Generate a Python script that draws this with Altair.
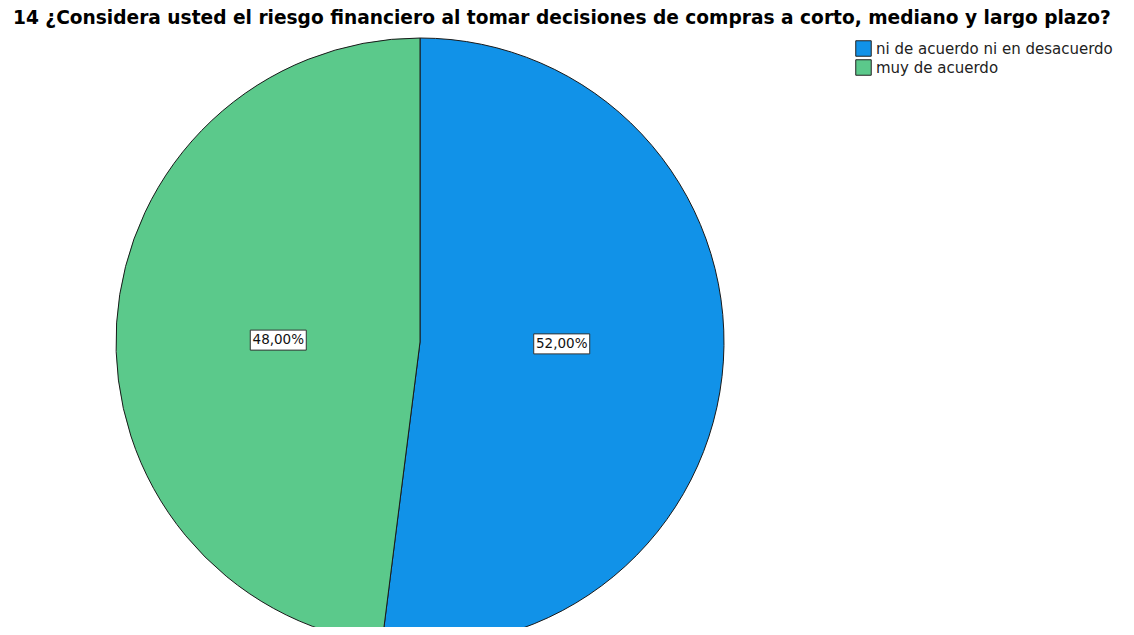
import altair as alt
import pandas as pd

# ---- data ----
categories = ["ni de acuerdo ni en desacuerdo", "muy de acuerdo"]
percent = [52.0, 48.0]
labels = ["52,00%", "48,00%"]
order = [1, 2]
colors = ["#1192e8", "#5bc98b"]
title_text = "14 ¿Considera usted el riesgo financiero al tomar decisiones de compras a corto, mediano y largo plazo?"

df = pd.DataFrame({"cat": categories, "pct": percent, "label": labels, "ord": order})

# ---- layout (plot-area pixel units) ----
W, H = 1118, 587
CX, CY, R = 412, 302, 304
LRX, LRY = 142, 30

xs = alt.Scale(domain=[0, W], nice=False, zero=False)
ys = alt.Scale(domain=[0, H], nice=False, zero=False, reverse=True)

base = alt.Chart(df)

pie = base.mark_arc(stroke="#1a1a1a", strokeWidth=1, radius=R).encode(
    theta=alt.Theta("pct:Q", stack=True),
    order=alt.Order("ord:Q"),
    color=alt.Color(
        "cat:N",
        scale=alt.Scale(domain=categories, range=colors),
        sort=categories,
        legend=alt.Legend(
            title=None,
            orient="none",
            legendX=847,
            legendY=0,
            symbolType="square",
            symbolSize=240,
            symbolStrokeColor="#222222",
            symbolStrokeWidth=1,
            symbolOpacity=1,
            labelFont="DejaVu Sans",
            labelFontSize=15,
            labelColor="#222222",
            labelLimit=400,
            labelOffset=4,
            rowPadding=-2,
        ),
    ),
    x=alt.value(CX),
    y=alt.value(CY),
)

lab = (
    base.transform_window(cum="sum(pct)", sort=[alt.SortField("ord")], frame=[None, 0])
    .transform_joinaggregate(total="sum(pct)")
    .transform_calculate(mid="(datum.cum - datum.pct/2) / datum.total * 2 * PI")
    .transform_calculate(
        lx=f"{CX} + {LRX} * sin(datum.mid)",
        ly=f"{CY} - {LRY} * cos(datum.mid)",
    )
    .transform_calculate(
        bx1="datum.lx - 28", bx2="datum.lx + 28",
        by1="datum.ly - 10", by2="datum.ly + 10",
    )
)

box = lab.mark_rect(fill="white", stroke="#333333", strokeWidth=1).encode(
    x=alt.X("bx1:Q", scale=xs, axis=None),
    x2="bx2:Q",
    y=alt.Y("by1:Q", scale=ys, axis=None),
    y2="by2:Q",
)

txt = lab.mark_text(font="DejaVu Sans", fontSize=13.5, color="#111111", baseline="middle", align="center").encode(
    x=alt.X("lx:Q", scale=xs, axis=None),
    y=alt.Y("ly:Q", scale=ys, axis=None),
    text="label:N",
)

chart = (
    alt.layer(pie, box, txt)
    .properties(
        width=W,
        height=H,
        background="white",
        title=alt.TitleParams(
            text=title_text,
            anchor="start",
            font="DejaVu Sans",
            fontSize=18.6,
            fontWeight="bold",
            color="#000000",
            offset=8,
            dx=5,
        ),
        padding={"left": 0, "top": 32, "right": 0, "bottom": 0},
        autosize=alt.AutoSizeParams(type="none"),
    )
    .configure_view(stroke=None, strokeWidth=0)
)

chart.save("out.html", embed_options={"renderer": "svg", "actions": False})
